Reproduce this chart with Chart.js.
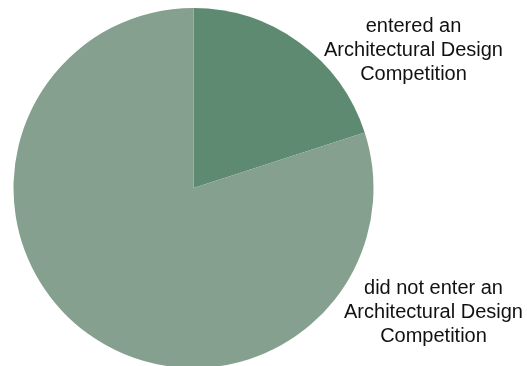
<!DOCTYPE html>
<html>
<head>
<meta charset="utf-8">
<script src="https://cdn.jsdelivr.net/npm/chart.js@4/dist/chart.umd.min.js"></script>
<style>
  html, body { margin: 0; padding: 0; background: #ffffff; overflow: hidden; width: 527px; height: 366px; }
  #wrap { position: absolute; left: 0; top: 0; width: 527px; height: 376px; }
</style>
</head>
<body>
<div id="wrap"><canvas id="c"></canvas></div>
<script>
const categories = [
  ["entered an", "Architectural Design", "Competition"],
  ["did not enter an", "Architectural Design", "Competition"]
];
const values = [20, 80];
const colors = ["#5e8a72", "#85a08e"];

const labelPlugin = {
  id: 'sideLabels',
  afterDraw(chart) {
    const ctx = chart.ctx;
    const ca = chart.chartArea;
    const cx = (ca.left + ca.right) / 2;
    const cy = (ca.top + ca.bottom) / 2;
    // anchor offsets (relative to pie center) for the two labels
    const anchors = [
      { x: cx + 220, y: cy - 156 },
      { x: cx + 240, y: cy + 106 }
    ];
    ctx.save();
    ctx.fillStyle = '#111111';
    ctx.font = '20px "Liberation Sans", Arial, sans-serif';
    ctx.textAlign = 'center';
    ctx.textBaseline = 'alphabetic';
    categories.forEach((lines, i) => {
      lines.forEach((t, j) => {
        ctx.fillText(t, anchors[i].x, anchors[i].y + j * 24);
      });
    });
    ctx.restore();
  }
};

new Chart(document.getElementById('c'), {
  type: 'pie',
  data: {
    labels: categories.map(l => l.join(' ')),
    datasets: [{
      data: values,
      backgroundColor: colors,
      borderWidth: 0
    }]
  },
  options: {
    responsive: true,
    maintainAspectRatio: false,
    animation: false,
    layout: { padding: { left: 13, right: 153, top: 8, bottom: 8 } },
    plugins: {
      legend: { display: false },
      tooltip: { enabled: false }
    }
  },
  plugins: [labelPlugin]
});
</script>
</body>
</html>
